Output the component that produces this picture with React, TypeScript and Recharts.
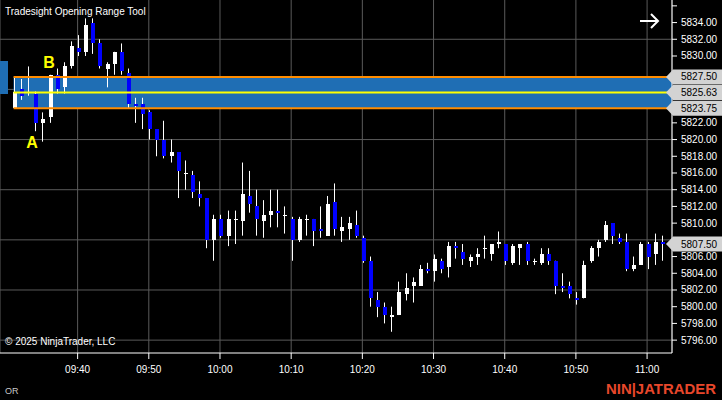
import React from "react"
import {
  Bar,
  CartesianGrid,
  ComposedChart,
  ReferenceArea,
  ReferenceLine,
  XAxis,
  YAxis,
} from "recharts"

// 1-minute bars, 09:31 -> 11:02
const times = [
  "09:31", "09:32", "09:33", "09:34", "09:35", "09:36", "09:37", "09:38", "09:39", "09:40",
  "09:41", "09:42", "09:43", "09:44", "09:45", "09:46", "09:47", "09:48", "09:49", "09:50",
  "09:51", "09:52", "09:53", "09:54", "09:55", "09:56", "09:57", "09:58", "09:59", "10:00",
  "10:01", "10:02", "10:03", "10:04", "10:05", "10:06", "10:07", "10:08", "10:09", "10:10",
  "10:11", "10:12", "10:13", "10:14", "10:15", "10:16", "10:17", "10:18", "10:19", "10:20",
  "10:21", "10:22", "10:23", "10:24", "10:25", "10:26", "10:27", "10:28", "10:29", "10:30",
  "10:31", "10:32", "10:33", "10:34", "10:35", "10:36", "10:37", "10:38", "10:39", "10:40",
  "10:41", "10:42", "10:43", "10:44", "10:45", "10:46", "10:47", "10:48", "10:49", "10:50",
  "10:51", "10:52", "10:53", "10:54", "10:55", "10:56", "10:57", "10:58", "10:59", "11:00",
  "11:01", "11:02",
]

const opens = [
  5823.75, 5826.0, 5827.5, 5825.5, 5822.0, 5822.75, 5827.75, 5826.25, 5828.75, 5831.0,
  5830.5, 5834.0, 5831.5, 5828.5, 5829.0, 5830.5, 5828.0, 5824.25, 5824.25, 5823.25,
  5821.25, 5820.0, 5818.0, 5818.5, 5816.0, 5815.75, 5813.5, 5813.0, 5808.0, 5810.5,
  5808.5, 5810.5, 5810.25, 5813.25, 5812.0, 5810.25, 5811.0, 5811.5, 5811.0, 5810.5,
  5808.0, 5810.5, 5810.5, 5809.25, 5808.5, 5812.5, 5809.0, 5809.25, 5809.75, 5808.25,
  5805.5, 5800.75, 5800.0, 5798.75, 5799.0, 5801.5, 5802.5, 5802.5, 5804.5, 5804.25,
  5805.5, 5804.75, 5807.25, 5806.5, 5805.5, 5806.0, 5807.0, 5806.25, 5807.5, 5807.5,
  5805.25, 5807.0, 5807.5, 5805.5, 5805.25, 5806.25, 5805.5, 5802.5, 5802.5, 5801.0,
  5801.0, 5805.5, 5807.0, 5808.0, 5810.0, 5808.25, 5807.75, 5804.5, 5805.0, 5807.5,
  5806.25, 5807.75,
]

const highs = [
  5827.5, 5827.25, 5828.75, 5825.75, 5823.25, 5827.75, 5828.5, 5829.25, 5831.75, 5832.5,
  5834.5, 5834.5, 5832.0, 5829.25, 5830.5, 5831.5, 5828.5, 5825.0, 5825.0, 5823.5,
  5821.25, 5822.25, 5820.0, 5818.5, 5817.5, 5816.25, 5815.0, 5813.0, 5811.0, 5811.0,
  5811.5, 5811.5, 5817.25, 5816.25, 5814.0, 5812.75, 5814.0, 5814.0, 5812.0, 5810.75,
  5810.75, 5811.0, 5810.5, 5812.0, 5813.25, 5814.75, 5810.75, 5810.75, 5811.5, 5808.5,
  5806.0, 5801.75, 5800.5, 5800.0, 5803.0, 5804.0, 5803.5, 5805.0, 5805.25, 5806.25,
  5805.75, 5807.75, 5807.75, 5807.5, 5806.25, 5807.0, 5808.5, 5807.5, 5809.0, 5807.5,
  5807.5, 5807.5, 5807.75, 5805.75, 5807.0, 5807.0, 5805.5, 5804.0, 5803.0, 5801.75,
  5805.5, 5807.25, 5808.0, 5810.25, 5810.0, 5808.75, 5808.75, 5806.0, 5807.75, 5807.75,
  5808.75, 5808.5,
]

const lows = [
  5823.75, 5824.75, 5825.25, 5821.0, 5819.75, 5822.0, 5825.5, 5825.5, 5828.5, 5830.0,
  5830.0, 5830.25, 5828.5, 5826.25, 5827.75, 5827.75, 5823.75, 5822.0, 5821.25, 5820.0,
  5818.0, 5817.75, 5817.25, 5813.0, 5814.0, 5813.0, 5812.0, 5807.0, 5805.5, 5808.25,
  5807.25, 5807.5, 5808.5, 5811.25, 5808.5, 5808.25, 5809.5, 5809.5, 5808.75, 5805.5,
  5807.75, 5808.5, 5807.25, 5808.25, 5808.5, 5808.5, 5807.75, 5808.0, 5808.25, 5805.25,
  5800.0, 5798.75, 5798.0, 5797.0, 5799.0, 5800.75, 5800.5, 5802.5, 5804.0, 5803.0,
  5804.0, 5803.5, 5805.75, 5805.0, 5804.75, 5805.0, 5805.75, 5805.5, 5807.0, 5805.0,
  5805.0, 5805.0, 5805.0, 5805.0, 5805.0, 5805.0, 5801.5, 5801.75, 5801.0, 5800.25,
  5801.0, 5805.25, 5806.0, 5807.75, 5807.5, 5807.5, 5804.25, 5804.25, 5805.0, 5804.5,
  5805.0, 5805.5,
]

const closes = [
  5825.75, 5825.25, 5827.5, 5822.0, 5822.5, 5827.75, 5826.0, 5828.75, 5831.25, 5830.5,
  5833.75, 5831.5, 5828.75, 5829.0, 5830.5, 5828.25, 5824.25, 5824.0, 5823.0, 5821.25,
  5820.0, 5818.0, 5818.5, 5816.25, 5816.0, 5813.75, 5813.0, 5808.0, 5810.5, 5808.5,
  5810.5, 5810.5, 5813.5, 5812.25, 5810.5, 5811.0, 5811.5, 5811.25, 5811.0, 5808.0,
  5810.5, 5810.5, 5809.0, 5809.0, 5812.25, 5809.25, 5809.5, 5810.0, 5808.5, 5805.5,
  5801.0, 5800.0, 5799.0, 5799.0, 5801.75, 5802.25, 5803.0, 5804.5, 5804.25, 5805.75,
  5804.5, 5807.25, 5807.0, 5805.75, 5806.0, 5806.25, 5807.0, 5807.5, 5807.75, 5805.5,
  5807.25, 5807.5, 5805.5, 5805.5, 5806.25, 5805.5, 5802.5, 5802.25, 5801.5, 5800.75,
  5805.0, 5807.0, 5807.75, 5809.75, 5808.5, 5807.75, 5804.5, 5805.0, 5807.5, 5806.0,
  5807.75, 5807.5,
]

// empty minute slot to the right of the last bar
const trailingSlots = ["11:03"]

const timeTicks = ["09:40", "09:50", "10:00", "10:10", "10:20", "10:30", "10:40", "10:50", "11:00"]
const priceTicks = [
  5796, 5798, 5800, 5802, 5804, 5806, 5808, 5810, 5812, 5814,
  5816, 5818, 5820, 5822, 5824, 5826, 5828, 5830, 5832, 5834, 5836,
]
const gridPrices = [5796, 5802, 5808, 5814, 5820, 5826, 5832]

// opening range
const orHigh = 5827.5
const orMid = 5825.63
const orLow = 5823.75
const lastPrice = 5807.5
const flagPrices = [orHigh, orMid, orLow, lastPrice]
const coveredTicks = [5828, 5826, 5824, 5808, 5836]

const markTimes = ["09:34", "09:36"]
const markLabels = ["A", "B"]

const FONT = '"Liberation Sans", Arial, sans-serif'
const UP = "#ffffff"
const DOWN = "#0000ff"

const slots = [...times, ...trailingSlots]
const data = slots.map((time, i) => {
  if (i >= times.length) return { time }
  const m = markTimes.indexOf(time)
  return {
    time,
    open: opens[i],
    high: highs[i],
    low: lows[i],
    close: closes[i],
    range: [lows[i], highs[i]],
    mark: m >= 0 ? markLabels[m] : null,
  }
})

const Candle = (props: any) => {
  const { x, y, width, height, payload } = props
  if (payload == null || payload.open == null) return <g />
  const { open, high, low, close, mark } = payload
  const cx = Math.round(x + width / 2)
  const k = high > low ? height / (high - low) : 0
  const yOf = (v: number) => y + (high - v) * k
  const top = Math.round(yOf(Math.max(open, close)))
  const bot = Math.round(yOf(Math.min(open, close)))
  const color = close > open ? UP : close < open ? DOWN : UP
  return (
    <g>
      <line x1={cx + 0.5} x2={cx + 0.5} y1={y} y2={y + height} stroke="#ffffff" strokeWidth={1} />
      <rect x={cx - 1} y={top} width={4} height={Math.max(1, bot - top)} fill={color} />
      {mark === "A" && (
        <text x={cx - 3} y={y + height + 17} fill="#ffff00" fontSize={16} fontWeight="bold" fontFamily={FONT} textAnchor="middle">
          {mark}
        </text>
      )}
      {mark === "B" && (
        <text x={cx - 1} y={y - 7} fill="#ffff00" fontSize={16} fontWeight="bold" fontFamily={FONT} textAnchor="middle">
          {mark}
        </text>
      )}
    </g>
  )
}

const PriceTick = (props: any) => {
  const { x, y, payload } = props
  const v = payload.value
  if (flagPrices.includes(v)) {
    return (
      <g>
        <polygon
          points={`${x - 6},${y} ${x + 1},${y - 7.5} ${x + 50},${y - 7.5} ${x + 50},${y + 7.5} ${x + 1},${y + 7.5}`}
          fill="#d3d3d3"
        />
        <text x={x + 9} y={y} dy="0.35em" fill="#000000" fontSize={10} fontFamily={FONT}>
          {v.toFixed(2)}
        </text>
      </g>
    )
  }
  if (coveredTicks.includes(v)) {
    if (v === 5836) return <line x1={x} x2={x + 5} y1={y} y2={y} stroke="#ffffff" />
    return <g />
  }
  return (
    <g>
      <line x1={x} x2={x + 5} y1={y} y2={y} stroke="#ffffff" />
      <text x={x + 9} y={y} dy="0.35em" fill="#ffffff" fontSize={10} fontFamily={FONT}>
        {v.toFixed(2)}
      </text>
    </g>
  )
}

const BandShape = (props: any) => {
  const { x, y, width, height } = props
  const half = width / slots.length / 2
  return <rect x={x + half} y={y} width={width - half} height={height} fill="#1f6eb4" />
}

export default function App() {
  return (
    <div style={{ position: "fixed", left: 0, top: 0, width: 722, height: 400, background: "#000" }}>
      <ComposedChart width={722} height={400} data={data} margin={{ top: 0, right: 0, bottom: 0, left: 0 }}>
        <CartesianGrid stroke="#5a5a5a" horizontalValues={gridPrices} />
        <XAxis
          dataKey="time"
          type="category"
          ticks={timeTicks}
          interval={0}
          height={47}
          padding={{ left: 10, right: 0 }}
          axisLine={{ stroke: "#ffffff" }}
          tickLine={{ stroke: "#ffffff" }}
          tickSize={6}
          tickMargin={7}
          tick={{ fill: "#ffffff", fontSize: 10, fontFamily: FONT }}
        />
        <YAxis
          orientation="right"
          type="number"
          width={50}
          domain={[5794.46, 5836.7]}
          allowDataOverflow
          ticks={[...priceTicks, ...flagPrices]}
          interval={0}
          tickLine={false}
          tickSize={0}
          tickMargin={0}
          axisLine={{ stroke: "#ffffff" }}
          tick={PriceTick}
        />
        <ReferenceArea x1="09:31" x2="11:03" y1={orLow} y2={orHigh} shape={BandShape} ifOverflow="visible" />
        <Bar dataKey="range" shape={Candle} barSize={4} isAnimationActive={false} />
        <ReferenceLine
          segment={[{ x: "09:31", y: orHigh }, { x: "11:03", y: orHigh }]}
          stroke="#ff8c00"
          strokeWidth={2}
        />
        <ReferenceLine
          segment={[{ x: "09:31", y: orLow }, { x: "11:03", y: orLow }]}
          stroke="#ff8c00"
          strokeWidth={2}
        />
        <ReferenceLine
          segment={[{ x: "09:31", y: orMid }, { x: "11:03", y: orMid }]}
          stroke="#ffff00"
          strokeWidth={2}
        />
      </ComposedChart>
      <svg width={722} height={400} style={{ position: "absolute", left: 0, top: 0, pointerEvents: "none" }}>
        <rect x={0} y={61} width={8} height={33} fill="#1f6eb4" />
        <text x={5} y={15} fill="#ffffff" fontSize={10} fontFamily={FONT}>
          Tradesight Opening Range Tool
        </text>
        <text x={5} y={345} fill="#ffffff" fontSize={10} fontFamily={FONT}>
          © 2025 NinjaTrader, LLC
        </text>
        <text x={5} y={394} fill="#c8c8c8" fontSize={9} fontFamily={FONT}>
          OR
        </text>
        <g stroke="#ffffff" strokeWidth={2} fill="none">
          <line x1={640} y1={21} x2={657} y2={21} />
          <polyline points="651,14 658,21 651,28" />
        </g>
        <text
          x={606}
          y={394}
          fill="#e8472b"
          fontSize={15}
          fontWeight="bold"
          fontFamily={FONT}
          textLength={110}
          lengthAdjust="spacingAndGlyphs"
        >
          NIN|JATRADER
        </text>
      </svg>
    </div>
  )
}
